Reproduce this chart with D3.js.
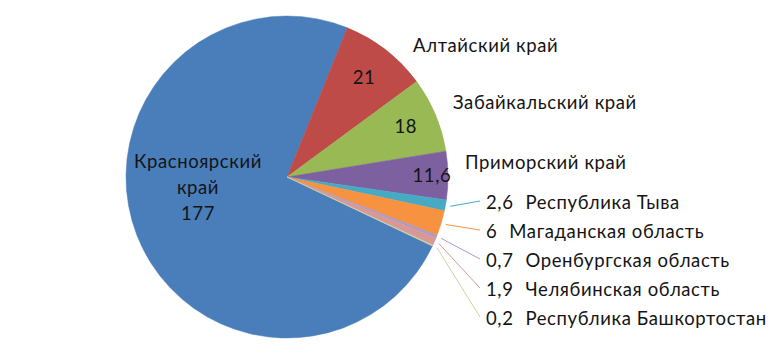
<!DOCTYPE html>
<html>
<head>
<meta charset="utf-8">
<script src="https://cdn.jsdelivr.net/npm/d3@7"></script>
<style>
  html, body { margin: 0; padding: 0; background: #fff; }
  svg { display: block; }
  text { font-family: Lato, "Open Sans", sans-serif; fill: #141414; letter-spacing: 0.6px; }
</style>
</head>
<body>
<div id="chart"></div>
<script>
// ---- data ----
const regions = ["Красноярский край", "Алтайский край", "Забайкальский край", "Приморский край",
  "Республика Тыва", "Магаданская область", "Оренбургская область", "Челябинская область",
  "Республика Башкортостан"];
const values = [177, 21, 18, 11.6, 2.6, 6, 0.7, 1.9, 0.2];
const valueLabels = ["177", "21", "18", "11,6", "2,6", "6", "0,7", "1,9", "0,2"];
const colors = ["#4a7ebb", "#be4b48", "#98b954", "#7d60a0", "#46aac5", "#f69240", "#a99bc6", "#d99795", "#c6d6a0"];

// ---- layout ----
const W = 775, H = 356;
const cx = 287, cy = 177, R = 161;
const startDeg = 115.4;

const svg = d3.select("#chart").append("svg").attr("width", W).attr("height", H);
const g = svg.append("g").attr("transform", `translate(${cx},${cy})`);

const items = regions.map((name, i) => ({ name, value: values[i], label: valueLabels[i], color: colors[i], i }));
const pie = d3.pie().sort(null).value(d => d.value)
  .startAngle(startDeg * Math.PI / 180)
  .endAngle(startDeg * Math.PI / 180 + 2 * Math.PI);
const arcs = pie(items);
const arc = d3.arc().innerRadius(0).outerRadius(R);

g.selectAll("path.slice").data(arcs).enter().append("path")
  .attr("class", "slice")
  .attr("d", arc)
  .attr("fill", d => d.data.color)
  .attr("stroke", d => d.data.color)
  .attr("stroke-width", 0.5);

const mid = d => (d.startAngle + d.endAngle) / 2;
const polar = (a, r) => [Math.sin(a) * r, -Math.cos(a) * r];

const fs = 18.5;
// Krasnoyarsk: three-line label
{
  const [x, y] = [-89, 11];
  const t = g.append("text").attr("text-anchor", "middle").attr("font-size", fs);
  const lines = ["Красноярский", "край", valueLabels[0]];
  lines.forEach((l, k) => t.append("tspan").attr("x", x).attr("y", y + (k - 1) * 26 + 6).text(l));
}
// value labels in slices 1..3
const innerR = [0, 0.78, 0.80, 0.90];
[1, 2, 3].forEach(i => {
  const a = arcs[i];
  const [x, y] = polar(mid(a), R * innerR[i]);
  g.append("text").attr("x", x).attr("y", y + 6).attr("text-anchor", "middle")
    .attr("font-size", fs).text(a.data.label);
});
// outer name labels for slices 1..3
const nameOff = [null, [126, -131], [166, -74], [178, -14]];
[1, 2, 3].forEach(i => {
  const [x, y] = nameOff[i];
  g.append("text").attr("x", x).attr("y", y + 6).attr("font-size", fs).text(regions[i]);
});

// small slices: leader lines + stacked labels
const small = [4, 5, 6, 7, 8];
const stackX = 486 - cx, stackY0 = 203 - cy, step = 29;
small.forEach((i, k) => {
  const a = arcs[i];
  const [x0, y0] = polar(mid(a), R * 1.03);
  const ly = stackY0 + k * step;
  g.append("line").attr("x1", x0).attr("y1", y0).attr("x2", stackX - 6).attr("y2", ly - 2)
    .attr("stroke", a.data.color).attr("stroke-width", 1);
  const t = g.append("text").attr("x", stackX).attr("y", ly + 6).attr("font-size", fs);
  t.append("tspan").text(a.data.label);
  t.append("tspan").attr("dx", 12).text(regions[i]);
});
</script>
</body>
</html>
